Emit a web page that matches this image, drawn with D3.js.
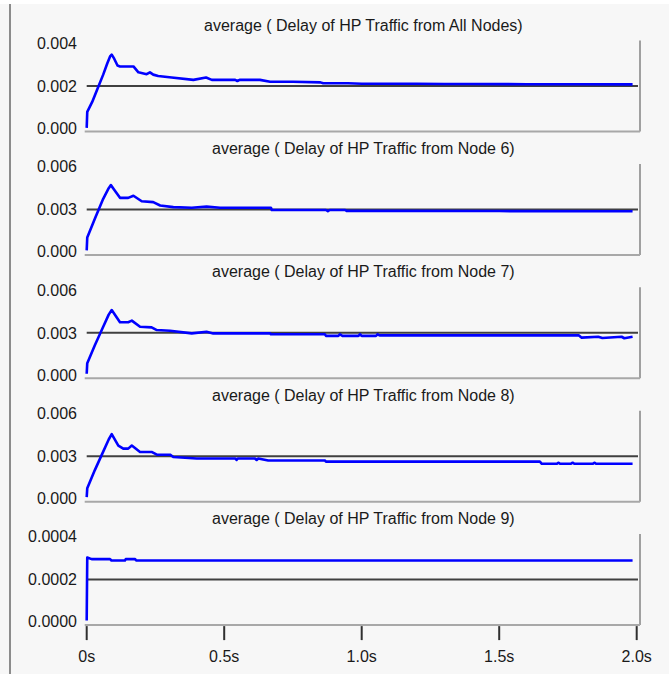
<!DOCTYPE html>
<html>
<head>
<meta charset="utf-8">
<script src="https://cdn.jsdelivr.net/npm/d3@7"></script>
<style>
  body { margin: 0; background: #f7f7f7; }
  svg { display: block; }
  text { font-family: "Liberation Sans", Arial, sans-serif; font-size: 16px; fill: #1a1a1a; }
</style>
</head>
<body>
<svg id="chart" width="669" height="674"></svg>
<script>
// panel titles
const titles = [
    "average ( Delay of HP Traffic from All Nodes)",
    "average ( Delay of HP Traffic from Node 6)",
    "average ( Delay of HP Traffic from Node 7)",
    "average ( Delay of HP Traffic from Node 8)",
    "average ( Delay of HP Traffic from Node 9)"
];
const yMax = [0.004, 0.006, 0.006, 0.006, 0.0004];
const yDecimals = [3, 3, 3, 3, 4];

const xTicks = [0, 0.5, 1.0, 1.5, 2.0];
const xTickLabels = ["0s", "0.5s", "1.0s", "1.5s", "2.0s"];

// All Nodes
const timeAll = [0, 0.002, 0.02, 0.04, 0.06, 0.075, 0.085, 0.091, 0.1, 0.112, 0.121, 0.17, 0.188, 0.218, 0.23, 0.242, 0.26, 0.309, 0.388, 0.434, 0.455, 0.54, 0.548, 0.556, 0.63, 0.667, 0.75, 0.85, 0.86, 0.95, 1.0, 1.1, 1.2, 1.3, 1.4, 1.6, 1.8, 1.985];
const delayAll = [0.00016, 0.00086, 0.0013, 0.0019, 0.0025, 0.003, 0.0033, 0.00338, 0.0032, 0.0029, 0.00286, 0.00286, 0.0026, 0.00252, 0.0026, 0.0025, 0.00244, 0.00237, 0.00227, 0.00237, 0.00227, 0.00227, 0.00222, 0.00227, 0.00227, 0.00219, 0.00219, 0.00216, 0.00212, 0.00212, 0.0021, 0.0021, 0.0021, 0.00209, 0.00209, 0.00208, 0.00208, 0.00207];

// Node 6
const timeNode6 = [0, 0.002, 0.03, 0.06, 0.08, 0.088, 0.1, 0.121, 0.151, 0.17, 0.2, 0.242, 0.267, 0.315, 0.382, 0.436, 0.485, 0.67, 0.673, 0.87, 0.877, 0.884, 0.94, 0.945, 1.14, 1.5, 1.985];
const delayNode6 = [0.0003, 0.00115, 0.0024, 0.0037, 0.0044, 0.0046, 0.0043, 0.00376, 0.00376, 0.0039, 0.00354, 0.00348, 0.00326, 0.00315, 0.00311, 0.00318, 0.00311, 0.00311, 0.00296, 0.00296, 0.00288, 0.00296, 0.00296, 0.0029, 0.0029, 0.00289, 0.00288];

// Node 7
const timeNode7 = [0, 0.002, 0.03, 0.06, 0.08, 0.091, 0.121, 0.151, 0.164, 0.194, 0.236, 0.255, 0.303, 0.382, 0.436, 0.46, 0.667, 0.67, 0.866, 0.87, 0.915, 0.921, 0.93, 0.988, 0.994, 1.0, 1.052, 1.058, 1.065, 1.79, 1.8, 1.86, 1.875, 1.945, 1.955, 1.985];
const delayNode7 = [0.0003, 0.001, 0.0022, 0.0034, 0.0042, 0.0045, 0.0037, 0.0037, 0.0038, 0.0034, 0.00336, 0.00318, 0.00314, 0.00296, 0.00307, 0.00296, 0.00296, 0.0029, 0.0029, 0.0028, 0.0028, 0.0029, 0.0028, 0.0028, 0.0029, 0.0028, 0.0028, 0.0029, 0.00283, 0.00283, 0.00268, 0.00274, 0.00266, 0.00274, 0.00264, 0.00274];

// Node 8
const timeNode8 = [0, 0.002, 0.03, 0.06, 0.08, 0.091, 0.115, 0.133, 0.151, 0.164, 0.194, 0.236, 0.255, 0.303, 0.315, 0.4, 0.54, 0.545, 0.55, 0.612, 0.618, 0.624, 0.66, 0.866, 0.87, 0.9, 1.648, 1.655, 1.71, 1.715, 1.722, 1.76, 1.767, 1.774, 1.84, 1.846, 1.853, 1.985];
const delayNode8 = [0.0003, 0.00088, 0.0021, 0.0033, 0.0041, 0.00445, 0.0037, 0.0035, 0.0035, 0.0037, 0.00328, 0.00328, 0.0031, 0.0031, 0.00295, 0.00285, 0.00285, 0.00275, 0.00285, 0.00285, 0.00275, 0.00285, 0.00272, 0.00272, 0.00264, 0.00264, 0.00264, 0.0025, 0.0025, 0.00257, 0.0025, 0.0025, 0.00257, 0.0025, 0.0025, 0.00257, 0.0025, 0.0025];

// Node 9
const timeNode9 = [0, 0.002, 0.018, 0.085, 0.09, 0.139, 0.142, 0.176, 0.18, 1.985];
const delayNode9 = [0.00002, 0.000297, 0.00029, 0.00029, 0.000284, 0.000284, 0.00029, 0.00029, 0.000284, 0.000284];

const seriesTimes = [timeAll, timeNode6, timeNode7, timeNode8, timeNode9];
const seriesValues = [delayAll, delayNode6, delayNode7, delayNode8, delayNode9];

const svg = d3.select("#chart");

const plotLeft = 86.7, plotRight = 636.7, frameRight = 640;
const firstTop = 40.5, panelStep = 123.4, panelH = 91;

// window-ish decorations
svg.append("rect").attr("x", 0).attr("y", 0).attr("width", 669).attr("height", 4).attr("fill", "#ffffff");
svg.append("line")
    .attr("x1", 10).attr("x2", 10).attr("y1", 4).attr("y2", 674)
    .attr("stroke", "#8c8c8c").attr("stroke-width", 2);

const x = d3.scaleLinear().domain([0, 2]).range([plotLeft, plotRight]);

titles.forEach((title, i) => {
    const top = firstTop + i * panelStep;
    const bottom = top + panelH;
    const y = d3.scaleLinear().domain([0, yMax[i]]).range([bottom, top]);
    const g = svg.append("g");

    // right frame + baseline
    g.append("line")
        .attr("x1", frameRight).attr("x2", frameRight).attr("y1", top).attr("y2", bottom)
        .attr("stroke", "#a0a0a0").attr("stroke-width", 2);
    g.append("line")
        .attr("x1", plotLeft - 2).attr("x2", frameRight).attr("y1", bottom).attr("y2", bottom)
        .attr("stroke", "#a8a8a8").attr("stroke-width", 2);

    // middle reference line
    const mid = yMax[i] / 2;
    g.append("line")
        .attr("x1", plotLeft).attr("x2", frameRight - 2).attr("y1", y(mid)).attr("y2", y(mid))
        .attr("stroke", "#404040").attr("stroke-width", 2);

    // title
    g.append("text")
        .attr("x", (plotLeft + frameRight) / 2).attr("y", top - 10)
        .attr("text-anchor", "middle")
        .text(title);

    // y labels
    const fmt = d3.format("." + yDecimals[i] + "f");
    const yTicks = [0, mid, yMax[i]];
    const nudge = [-3.5, 0, 2.5];
    yTicks.forEach((v, k) => {
        g.append("text")
            .attr("x", 77).attr("y", y(v) + nudge[k])
            .attr("dy", "0.36em")
            .attr("text-anchor", "end")
            .text(fmt(v));
    });

    // data line
    const pts = seriesTimes[i].map((t, k) => [t, seriesValues[i][k]]);
    g.append("path")
        .datum(pts)
        .attr("fill", "none")
        .attr("stroke", "#0000ff")
        .attr("stroke-width", 2.6)
        .attr("stroke-linejoin", "round")
        .attr("d", d3.line().x(d => x(d[0])).y(d => y(d[1])));

    // x axis on last panel
    if (i === titles.length - 1) {
        const ax = svg.append("g");
        ax.selectAll("line.tick")
            .data(xTicks)
            .enter().append("line")
            .attr("class", "tick")
            .attr("x1", d => x(d)).attr("x2", d => x(d))
            .attr("y1", bottom + 1).attr("y2", bottom + 15)
            .attr("stroke", "#303030").attr("stroke-width", 2);
        ax.selectAll("text")
            .data(xTicks)
            .enter().append("text")
            .attr("x", d => x(d)).attr("y", bottom + 37)
            .attr("text-anchor", "middle")
            .text((d, k) => xTickLabels[k]);
    }
});
</script>
</body>
</html>
